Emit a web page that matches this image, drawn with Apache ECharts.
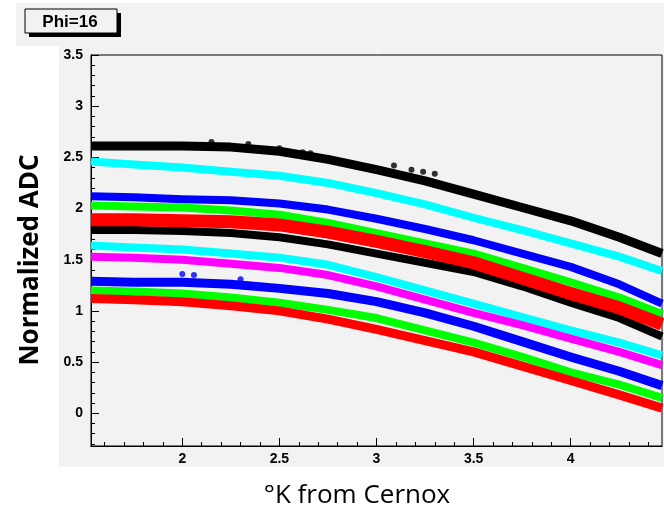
<!DOCTYPE html>
<html>
<head>
<meta charset="utf-8">
<script src="https://cdn.jsdelivr.net/npm/echarts@6/dist/echarts.min.js"></script>
<style>
html,body{margin:0;padding:0;background:#ffffff;}
#chart{width:664px;height:510px;}
</style>
</head>
<body>
<div id="chart"></div>
<script>
// ---- data ----
var xSamples = [1.53, 1.75, 2.0, 2.25, 2.5, 2.75, 3.0, 3.25, 3.5, 3.75, 4.0, 4.25, 4.47];
var black1  = [2.61, 2.61, 2.61, 2.60, 2.56, 2.48, 2.38, 2.27, 2.14, 2.01, 1.88, 1.72, 1.56];
var cyan1   = [2.46, 2.43, 2.40, 2.36, 2.32, 2.25, 2.15, 2.04, 1.91, 1.79, 1.66, 1.53, 1.39];
var blue1   = [2.12, 2.11, 2.09, 2.08, 2.05, 1.99, 1.90, 1.80, 1.69, 1.56, 1.43, 1.26, 1.07];
var green1  = [2.03, 2.02, 2.01, 1.98, 1.94, 1.86, 1.76, 1.66, 1.56, 1.42, 1.28, 1.13, 0.97];
var black2  = [1.79, 1.79, 1.78, 1.76, 1.72, 1.65, 1.56, 1.47, 1.38, 1.24, 1.08, 0.93, 0.75];
var red1    = [1.89, 1.89, 1.88, 1.87, 1.84, 1.77, 1.68, 1.58, 1.47, 1.32, 1.17, 1.03, 0.87];
var cyan2   = [1.64, 1.62, 1.60, 1.56, 1.52, 1.45, 1.33, 1.20, 1.07, 0.94, 0.81, 0.69, 0.565];
var magenta = [1.53, 1.52, 1.50, 1.46, 1.42, 1.35, 1.24, 1.11, 0.98, 0.86, 0.73, 0.60, 0.47];
var blue2   = [1.29, 1.28, 1.28, 1.26, 1.22, 1.17, 1.09, 0.98, 0.85, 0.70, 0.55, 0.41, 0.27];
var green2  = [1.20, 1.19, 1.17, 1.13, 1.08, 1.01, 0.93, 0.81, 0.69, 0.55, 0.40, 0.28, 0.15];
var red2    = [1.12, 1.11, 1.09, 1.05, 1.00, 0.92, 0.82, 0.71, 0.60, 0.46, 0.32, 0.18, 0.05];
// scattered outlier points
var blackOutX = [2.15, 2.34, 2.50, 2.62, 2.66, 3.09, 3.18, 3.24, 3.30];
var blackOutY = [2.65, 2.63, 2.59, 2.55, 2.54, 2.42, 2.38, 2.36, 2.34];
var blueOutX  = [2.00, 2.06, 2.30];
var blueOutY  = [1.36, 1.35, 1.31];
// axis ticks
var xMajor = [2, 2.5, 3, 3.5, 4];
var xMinor = [1.6,1.7,1.8,1.9,2.1,2.2,2.3,2.4,2.6,2.7,2.8,2.9,3.1,3.2,3.3,3.4,3.6,3.7,3.8,3.9,4.1,4.2,4.3,4.4];
var yMajor = [0, 0.5, 1, 1.5, 2, 2.5, 3, 3.5];
var yMinor = [-0.3,-0.2,-0.1,0.1,0.2,0.3,0.4,0.6,0.7,0.8,0.9,1.1,1.2,1.3,1.4,1.6,1.7,1.8,1.9,2.1,2.2,2.3,2.4,2.6,2.7,2.8,2.9,3.1,3.2,3.3,3.4];
var xMin = 1.53, xMax = 4.47, yMin = -0.32, yMax = 3.5;

function pairs(xs, ys){ return xs.map(function(x,i){ return [x, ys[i]]; }); }

var curves = [
  {name:'black1', data:black1, color:'#000000', w:9},
  {name:'cyan1', data:cyan1, color:'#00ffff', w:8},
  {name:'blue1', data:blue1, color:'#0000ff', w:8},
  {name:'green1', data:green1, color:'#00ff00', w:8},
  {name:'black2', data:black2, color:'#000000', w:8},
  {name:'red1', data:red1, color:'#ff0000', w:13},
  {name:'cyan2', data:cyan2, color:'#00ffff', w:8},
  {name:'magenta', data:magenta, color:'#ff00ff', w:8},
  {name:'blue2', data:blue2, color:'#0000ff', w:9},
  {name:'green2', data:green2, color:'#00ff00', w:8},
  {name:'red2', data:red2, color:'#ff0000', w:9}
];

var series = curves.map(function(c){
  return {
    name:c.name, type:'line', xAxisIndex:0, yAxisIndex:0,
    data: pairs(xSamples, c.data), smooth:false, showSymbol:false, symbol:'none',
    lineStyle:{color:c.color, width:c.w, cap:'butt', join:'round'}, silent:true, animation:false, clip:true
  };
});
series.push({type:'scatter', xAxisIndex:0, yAxisIndex:0, data:pairs(blackOutX, blackOutY), symbolSize:6, itemStyle:{color:'#000'}, animation:false, silent:true});
series.push({type:'scatter', xAxisIndex:0, yAxisIndex:0, data:pairs(blueOutX, blueOutY), symbolSize:6, itemStyle:{color:'#0000ff'}, animation:false, silent:true});

var labelFont = {color:'#000', fontFamily:'Liberation Sans, Arial, sans-serif', fontWeight:'bold', fontSize:14};

function xAx(values, len, showLabel){
  return {
    type:'value', min:xMin, max:xMax, position:'bottom', gridIndex:0,
    axisLine:{show:true, onZero:false, lineStyle:{color:'#000', width:1}},
    axisTick:{show:true, inside:true, length:len, customValues:values, lineStyle:{color:'#000', width:1}},
    axisLabel:Object.assign({show:showLabel, customValues:values, margin:6}, labelFont),
    splitLine:{show:false}, minorTick:{show:false}
  };
}
function yAx(values, len, showLabel){
  return {
    type:'value', min:yMin, max:yMax, position:'left', gridIndex:0,
    axisLine:{show:true, onZero:false, lineStyle:{color:'#000', width:1}},
    axisTick:{show:true, inside:true, length:len, customValues:values, lineStyle:{color:'#000', width:1}},
    axisLabel:Object.assign({show:showLabel, customValues:values, margin:8}, labelFont),
    splitLine:{show:false}, minorTick:{show:false}
  };
}

var chart = echarts.init(document.getElementById('chart'), null, {renderer:'canvas'});
chart.setOption({
  animation:false,
  backgroundColor:'#ffffff',
  graphic:[
    {type:'rect', z:-10, shape:{x:16, y:3, width:648, height:43}, style:{fill:'#f2f2f2'}},
    {type:'rect', z:-10, shape:{x:59, y:45, width:605, height:422}, style:{fill:'#f2f2f2'}},
    {type:'rect', z:10, shape:{x:29, y:13, width:92, height:24}, style:{fill:'#000'}},
    {type:'rect', z:11, shape:{x:25, y:9, width:92, height:24}, style:{fill:'#f2f2f2', stroke:'#000', lineWidth:1}},
    {type:'text', z:12, x:70, y:22, style:{text:'Phi=16', fill:'#000', font:'bold 17px "Liberation Sans", Arial, sans-serif', textAlign:'center', textVerticalAlign:'middle'}},
    {type:'text', z:12, x:31, y:260, rotation:Math.PI/2, style:{text:'Normalized ADC', fill:'#000', font:'bold 26px "Open Sans", sans-serif', textAlign:'center', textVerticalAlign:'middle'}},
    {type:'text', z:12, x:357, y:496, style:{text:'°K from Cernox', fill:'#000', font:'26px "Open Sans", sans-serif', textAlign:'center', textVerticalAlign:'middle'}}
  ],
  grid:{left:91, right:2, top:55, bottom:64, show:true, backgroundColor:'#f2f2f2', borderColor:'#000', borderWidth:1, containLabel:false},
  xAxis:[xAx(xMajor, 8, true), xAx(xMinor, 4, false)],
  yAxis:[yAx(yMajor, 8, true), yAx(yMinor, 4, false)],
  series:series
});
</script>
</body>
</html>
